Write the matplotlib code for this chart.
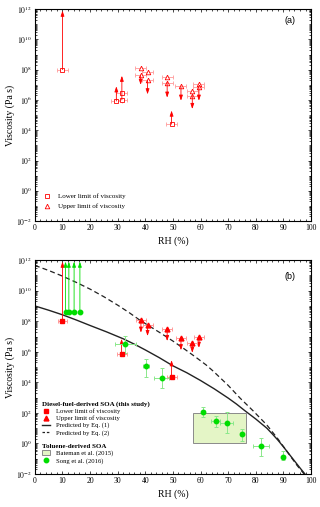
import numpy as np
import matplotlib
matplotlib.use("Agg")
import matplotlib.pyplot as plt
from matplotlib.lines import Line2D
from matplotlib.patches import Patch, Rectangle
from matplotlib.ticker import FixedLocator, LogLocator, MultipleLocator, FuncFormatter, NullFormatter

plt.rcParams['font.family'] = ['Liberation Serif', 'DejaVu Serif']
plt.rcParams['mathtext.fontset'] = 'stix'

# ---- panel (a): individual measurements (log10 viscosity, Pa s) ----
a_low_rh = [10, 29.5, 31.5, 31.5, 49.5]
a_low_logv = [8.0, 5.93, 6.0, 6.45, 4.4]
a_low_arrow_rh = [10, 29.5, 31.5, 49.5]
a_low_arrow_from = [8.0, 5.93, 6.0, 4.4]
a_low_arrow_to = [11.9, 6.9, 7.6, 5.3]

a_up_rh = [38.3, 38.3, 40.8, 40.8, 47.9, 47.9, 52.9, 57.0, 57.0, 59.4, 59.4]
a_up_logv = [8.1, 7.62, 7.82, 7.29, 7.53, 7.15, 6.9, 6.6, 6.28, 7.07, 6.87]
a_up_arrow_rh = [38.3, 40.8, 47.9, 52.9, 57.0, 59.4]
a_up_arrow_from = [7.62, 7.29, 7.15, 6.9, 6.28, 6.87]
a_up_arrow_to = [7.0, 6.37, 6.15, 5.95, 5.4, 5.95]

# ---- panel (b): averaged diesel SOA ----
b_low_rh = [10, 31.4, 49.5]
b_low_logv = [8.0, 5.87, 4.35]
b_low_arrow_to = [11.9, 6.85, 5.45]

b_up_rh = [38.4, 40.8, 47.9, 52.9, 57.0, 59.4]
b_up_logv = [8.09, 7.78, 7.52, 6.9, 6.6, 7.0]
b_up_arrow_to = [7.25, 7.03, 6.7, 6.1, 5.93, 6.26]

# toluene SOA, Song et al. (2016)
song_lim_rh = [11.1, 12.3, 14.2, 16.3]
song_lim_logv = [8.62, 8.62, 8.62, 8.62]
song_rh = [32.8, 40.2, 45.9, 61.0, 65.5, 69.4, 74.9, 81.9, 90.0]
song_logv = [6.48, 5.05, 4.31, 2.05, 1.48, 1.32, 0.6, -0.17, -0.87]
song_log_hi = [7.03, 5.56, 4.95, 2.36, 1.83, 2.03, 0.95, 0.33, -0.5]
song_log_lo = [5.93, 4.33, 3.63, 1.76, 1.10, 0.66, 0.16, -0.81, -1.1]
song_xerr = [3.8, 1.0, 2.7, 0.5, 1.7, 2.4, 0.5, 3.0, 0.5]

# Bateman et al. (2015) range
bateman_rh = [57.1, 76.3]
bateman_visc = [1, 100]

# model predictions
eq1_rh = [0, 5, 10, 15, 20, 26, 32, 36, 40, 45, 50, 55, 60, 65, 70, 73, 76, 80, 84,
          86, 88, 90, 92, 94, 96, 97.8]
eq1_logv = [9.0, 8.72, 8.42, 8.08, 7.72, 7.3, 6.85, 6.5, 6.12, 5.62, 5.08, 4.63, 4.12,
            3.57, 2.97, 2.58, 2.15, 1.6, 1.0, 0.62, 0.22, -0.22, -0.68, -1.14, -1.6, -2.0]
eq2_rh = [0, 5, 10, 15, 20, 25, 30, 34, 38, 42, 45.3, 50, 54, 58.6, 62, 64.6, 70, 74.3,
          79, 84, 88, 91, 93, 95, 97.5]
eq2_logv = [11.65, 11.32, 10.95, 10.54, 10.1, 9.6, 9.05, 8.58, 8.07, 7.62, 7.25, 6.7,
            6.2, 5.6, 5.14, 4.73, 3.8, 2.97, 2.14, 1.21, 0.3, -0.45, -0.95, -1.45, -2.0]

RED = '#ff0000'
PINK = '#ff9a9a'
GREEN = '#00dd00'
LGREEN = '#8be88b'
TICKFS = 5.5
LABFS = 7


def p10(v):
    return np.power(10.0, np.asarray(v, dtype=float))


def arrow(ax, x, y0, y1, color):
    ax.annotate('', xy=(x, 10 ** y1), xytext=(x, 10 ** y0),
                arrowprops=dict(arrowstyle='-|>,head_width=0.3,head_length=0.9',
                                color=color, lw=0.6, shrinkA=0, shrinkB=0,
                                mutation_scale=3.5))


def style_axes(ax):
    ax.set_xlim(0, 100)
    ax.set_yscale('log')
    ax.set_ylim(1e-2, 1e12)
    ax.xaxis.set_major_locator(MultipleLocator(10))
    ax.xaxis.set_minor_locator(MultipleLocator(2))
    ax.yaxis.set_major_locator(FixedLocator(p10(np.arange(-2, 13, 2))))
    ax.yaxis.set_major_formatter(FuncFormatter(lambda v, p: r'$10^{%d}$' % round(np.log10(v))))
    ax.yaxis.set_minor_locator(LogLocator(base=10, subs=np.arange(1, 10), numticks=100))
    ax.yaxis.set_minor_formatter(NullFormatter())
    ax.tick_params(which='both', direction='in', top=True, right=True, width=0.5,
                   labelsize=TICKFS, pad=2)
    ax.tick_params(which='major', length=2.5)
    ax.tick_params(which='minor', length=1.2)
    for s in ax.spines.values():
        s.set_linewidth(0.8)
    ax.set_xlabel('RH (%)', fontsize=LABFS, labelpad=3)
    ax.set_ylabel('Viscosity (Pa s)', fontsize=LABFS, labelpad=1)


fig = plt.figure(figsize=(3.2, 5.07), dpi=100)
ax1 = fig.add_axes([0.109, 0.564, 0.863, 0.418])
ax2 = fig.add_axes([0.109, 0.065, 0.863, 0.422])

# ---------- panel (a) ----------
for x, y0, y1 in zip(a_low_arrow_rh, a_low_arrow_from, a_low_arrow_to):
    arrow(ax1, x, y0, y1, RED)
for x, y0, y1 in zip(a_up_arrow_rh, a_up_arrow_from, a_up_arrow_to):
    arrow(ax1, x, y0, y1, RED)
ax1.errorbar(a_low_rh, p10(a_low_logv), xerr=2, fmt='s', ms=3, mfc='white',
             mec=RED, mew=0.6, ecolor=PINK, elinewidth=0.6, capsize=1.5, capthick=0.6)
ax1.errorbar(a_up_rh, p10(a_up_logv), xerr=2, fmt='^', ms=3.3, mfc='white',
             mec=RED, mew=0.6, ecolor=PINK, elinewidth=0.6, capsize=1.5, capthick=0.6)
style_axes(ax1)
ax1.text(0.925, 0.948, '(a)', transform=ax1.transAxes, fontsize=6.5,
         family='Liberation Sans', ha='center', va='center')
ha = [Line2D([], [], marker='s', ls='none', ms=3, mfc='white', mec=RED, mew=0.6),
      Line2D([], [], marker='^', ls='none', ms=3.3, mfc='white', mec=RED, mew=0.6)]
ax1.legend(ha, ['Lower limit of viscosity', 'Upper limit of viscosity'],
           loc='upper left', bbox_to_anchor=(0.03, 0.13), frameon=False,
           fontsize=5, handlelength=1.2, handletextpad=1.0, labelspacing=0.55,
           borderpad=0, borderaxespad=0)

# ---------- panel (b) ----------
ax2.add_patch(Rectangle((bateman_rh[0], bateman_visc[0]), bateman_rh[1] - bateman_rh[0],
                        bateman_visc[1] - bateman_visc[0], facecolor='#e4f5c6',
                        edgecolor='#8a8a8a', lw=0.7, zorder=1))
ax2.plot(eq1_rh, p10(eq1_logv), color='#222222', lw=1.0, zorder=2)
ax2.plot(eq2_rh, p10(eq2_logv), color='#222222', lw=0.9, dashes=(4, 2.5), zorder=2)

for x, y0, y1 in zip(b_low_rh, b_low_logv, b_low_arrow_to):
    arrow(ax2, x, y0, y1, RED)
for x, y0, y1 in zip(b_up_rh, b_up_logv, b_up_arrow_to):
    arrow(ax2, x, y0, y1, RED)
for x, y0 in zip(song_lim_rh, song_lim_logv):
    arrow(ax2, x, y0, 11.9, GREEN)

ax2.errorbar(b_low_rh, p10(b_low_logv), xerr=1.8, fmt='s', ms=3, color=RED,
             ecolor=PINK, elinewidth=0.7, capsize=1.5, capthick=0.7, zorder=4)
ax2.errorbar(b_up_rh, p10(b_up_logv), xerr=1.8, fmt='^', ms=3.5, color=RED,
             ecolor=PINK, elinewidth=0.7, capsize=1.5, capthick=0.7, zorder=4)

sv = p10(song_logv)
yerr = [sv - p10(song_log_lo), p10(song_log_hi) - sv]
ax2.errorbar(song_rh, sv, xerr=song_xerr, yerr=yerr, fmt='o', ms=3.2, color=GREEN,
             ecolor=LGREEN, elinewidth=0.7, capsize=1.5, capthick=0.7, zorder=4)
ax2.plot(song_lim_rh, p10(song_lim_logv), 'o', ms=3.2, color=GREEN, zorder=4)

style_axes(ax2)
ax2.text(0.925, 0.925, '(b)', transform=ax2.transAxes, fontsize=6.5,
         family='Liberation Sans', ha='center', va='center')

h1 = [Line2D([], [], marker='s', ls='none', ms=3, color=RED),
      Line2D([], [], marker='^', ls='none', ms=3.5, color=RED),
      Line2D([], [], color='#222222', lw=1.0),
      Line2D([], [], color='#222222', lw=0.9, dashes=(2, 1.5))]
l1 = ax2.legend(h1, ['Lower limit of viscosity', 'Upper limit of viscosity',
                     'Predicted by Eq. (1)', 'Predicted by Eq. (2)'],
                title='Diesel-fuel-derived SOA (this study)', alignment='left',
                title_fontproperties={'weight': 'bold', 'size': 5},
                loc='upper left', bbox_to_anchor=(0.025, 0.34), frameon=False,
                fontsize=4.8, handlelength=1.3, handletextpad=0.9, labelspacing=0.2,
                borderpad=0, borderaxespad=0)
ax2.add_artist(l1)
h2 = [Patch(facecolor='#e4f5c6', edgecolor='#8a8a8a', lw=0.7),
      Line2D([], [], marker='o', ls='none', ms=3.2, color=GREEN)]
ax2.legend(h2, ['Bateman et al. (2015)', 'Song et al. (2016)'],
           title='Toluene-derived SOA', alignment='left',
           title_fontproperties={'weight': 'bold', 'size': 5},
           loc='upper left', bbox_to_anchor=(0.025, 0.14), frameon=False,
           fontsize=4.8, handlelength=1.3, handletextpad=0.9, labelspacing=0.2,
           borderpad=0, borderaxespad=0)

fig.savefig('out.png', dpi=100)
